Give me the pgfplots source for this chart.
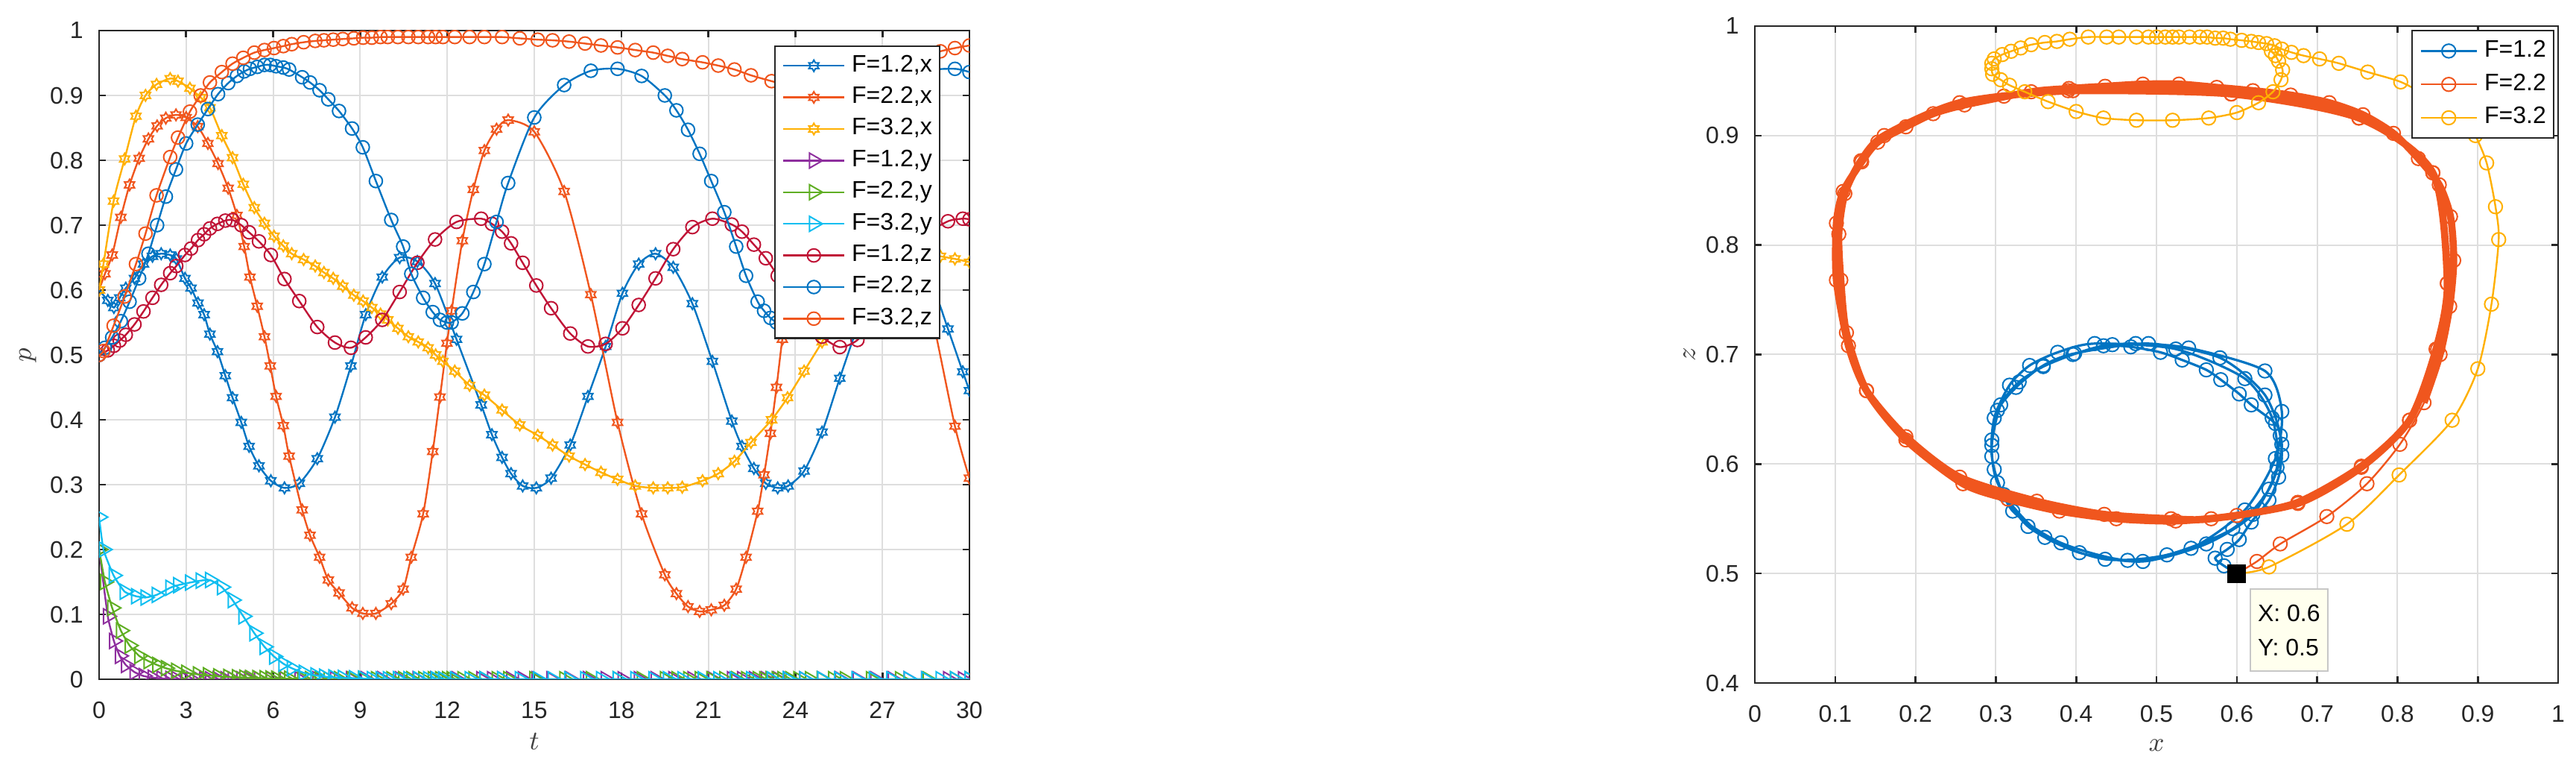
\documentclass[border=0pt]{standalone}
\usepackage{fontspec}
\setmainfont{Liberation Sans}
\usepackage{pgfplots}
\usepackage{pgfplotstable}
\pgfplotsset{compat=1.18}

\definecolor{cA}{HTML}{0074C2}
\definecolor{cB}{HTML}{F0561E}
\definecolor{cC}{HTML}{FFB000}
\definecolor{cD}{HTML}{8E2F9E}
\definecolor{cE}{HTML}{5FAE23}
\definecolor{cF}{HTML}{10BEF0}
\definecolor{cG}{HTML}{C01437}
\definecolor{tipbg}{HTML}{FFFFEE}

\pgfdeclareplotmark{hexagram}{%
  \pgfpathmoveto{\pgfpointpolar{90}{\pgfplotmarksize}}%
  \pgfpathlineto{\pgfpointpolar{120}{0.5774\pgfplotmarksize}}%
  \pgfpathlineto{\pgfpointpolar{150}{\pgfplotmarksize}}%
  \pgfpathlineto{\pgfpointpolar{180}{0.5774\pgfplotmarksize}}%
  \pgfpathlineto{\pgfpointpolar{210}{\pgfplotmarksize}}%
  \pgfpathlineto{\pgfpointpolar{240}{0.5774\pgfplotmarksize}}%
  \pgfpathlineto{\pgfpointpolar{270}{\pgfplotmarksize}}%
  \pgfpathlineto{\pgfpointpolar{300}{0.5774\pgfplotmarksize}}%
  \pgfpathlineto{\pgfpointpolar{330}{\pgfplotmarksize}}%
  \pgfpathlineto{\pgfpointpolar{0}{0.5774\pgfplotmarksize}}%
  \pgfpathlineto{\pgfpointpolar{30}{\pgfplotmarksize}}%
  \pgfpathlineto{\pgfpointpolar{60}{0.5774\pgfplotmarksize}}%
  \pgfpathclose
  \pgfusepathqstroke
}

% F = 1.2
\pgfplotstableread{
t x y z
0 0.600 0.200 0.500
0.30 0.584 0.097 0.507
0.51 0.573 0.059 0.514
0.71 0.588 0.036 0.522
0.92 0.603 0.022 0.531
1.22 0.618 0.011 0.547
1.53 0.640 0.005 0.567
1.84 0.652 0.0025 0.588
2.14 0.656 0.0012 0.608
2.45 0.654 0.0006 0.626
2.66 0.648 0.0003 0.637
2.96 0.618 0 0.654
3.17 0.603 0 0.664
3.41 0.580 0 0.677
3.62 0.562 0 0.686
3.82 0.532 0 0.695
4.08 0.505 0 0.702
4.35 0.468 0 0.707
4.60 0.434 0 0.708
4.90 0.396 0 0.700
5.17 0.359 0 0.689
5.51 0.329 0 0.675
5.92 0.306 0 0.654
6.39 0.295 0 0.617
6.90 0.302 0 0.583
7.52 0.340 0 0.543
8.13 0.404 0 0.519
8.68 0.483 0 0.511
9.19 0.562 0 0.527
9.76 0.620 0 0.554
10.36 0.650 0 0.597
10.97 0.644 0 0.642
11.58 0.610 0 0.678
12.32 0.524 0 0.705
13.17 0.423 0 0.710
13.54 0.377 0 0.702
13.89 0.342 0 0.690
14.20 0.317 0 0.672
14.60 0.298 0 0.642
15.07 0.295 0 0.607
15.58 0.310 0 0.572
16.24 0.361 0 0.533
16.85 0.436 0 0.513
17.46 0.513 0 0.517
18.04 0.595 0 0.541
18.60 0.640 0 0.577
19.18 0.656 0 0.618
19.79 0.635 0 0.663
20.45 0.579 0 0.697
21.14 0.490 0 0.710
21.81 0.398 0 0.701
22.16 0.359 0 0.690
22.57 0.325 0 0.670
22.98 0.302 0 0.649
23.39 0.295 0 0.622
23.75 0.298 0 0.595
24.30 0.321 0 0.557
24.92 0.381 0 0.528
25.53 0.464 0 0.512
26.14 0.543 0 0.523
26.75 0.610 0 0.558
27.35 0.648 0 0.605
27.90 0.656 0 0.648
28.50 0.635 0 0.685
29.26 0.540 0 0.706
29.77 0.474 0 0.710
30.00 0.445 0 0.709
}\dataA

% F = 2.2
\pgfplotstableread{
t x y z
0 0.600 0.200 0.500
0.20 0.625 0.150 0.511
0.45 0.654 0.110 0.527
0.75 0.712 0.075 0.552
1.05 0.762 0.052 0.582
1.38 0.803 0.036 0.618
1.70 0.833 0.028 0.656
2.00 0.853 0.022 0.700
2.30 0.865 0.017 0.744
2.65 0.870 0.013 0.786
3.00 0.866 0.010 0.826
3.40 0.852 0.0075 0.855
3.75 0.826 0.006 0.879
4.10 0.795 0.0045 0.902
4.45 0.757 0.0035 0.919
4.75 0.715 0.003 0.930
5.00 0.667 0.0025 0.937
5.20 0.620 0.002 0.941
5.45 0.575 0.0018 0.944
5.70 0.528 0.0015 0.947
5.90 0.483 0.0012 0.947
6.10 0.436 0.001 0.945
6.35 0.391 0.001 0.943
6.55 0.344 0.0008 0.940
7.00 0.261 0.0005 0.928
7.27 0.222 0 0.920
7.60 0.188 0 0.908
7.90 0.153 0 0.894
8.27 0.133 0 0.876
8.72 0.110 0 0.849
9.09 0.1015 0 0.820
9.54 0.1015 0 0.768
10.07 0.1165 0 0.708
10.48 0.139 0 0.667
10.76 0.188 0 0.625
11.17 0.255 0 0.588
11.50 0.351 0 0.566
11.75 0.435 0 0.554
11.99 0.518 0 0.550
12.15 0.568 0 0.550
12.52 0.676 0 0.564
12.90 0.755 0 0.597
13.28 0.815 0 0.640
13.70 0.848 0 0.705
14.10 0.862 0 0.765
15.00 0.844 0 0.866
16.03 0.752 0 0.916
16.95 0.593 0 0.938
17.87 0.396 0 0.941
18.70 0.255 0 0.930
19.50 0.161 0 0.900
19.90 0.132 0 0.877
20.30 0.112 0 0.847
20.70 0.1045 0 0.810
21.10 0.107 0 0.768
21.55 0.114 0 0.720
21.96 0.139 0 0.667
22.30 0.188 0 0.622
22.70 0.259 0 0.582
22.92 0.315 0 0.568
23.14 0.379 0 0.557
23.35 0.450 0 0.550
23.55 0.524 0 0.548
23.82 0.600 0 0.553
24.10 0.676 0 0.565
24.50 0.755 0 0.598
24.90 0.815 0 0.640
25.30 0.850 0 0.705
25.70 0.862 0 0.765
26.60 0.844 0 0.866
27.60 0.752 0 0.916
28.55 0.593 0 0.938
29.50 0.390 0 0.941
30.00 0.310 0 0.936
}\dataB

% F = 3.2
\pgfplotstableread{
t x y z
0 0.600 0.250 0.500
0.15 0.640 0.200 0.506
0.50 0.737 0.160 0.545
0.88 0.802 0.135 0.590
1.27 0.868 0.128 0.640
1.60 0.900 0.126 0.687
1.98 0.917 0.130 0.746
2.45 0.926 0.141 0.805
2.72 0.922 0.145 0.835
3.13 0.911 0.149 0.875
3.50 0.897 0.152 0.900
3.82 0.881 0.153 0.920
4.23 0.838 0.142 0.936
4.60 0.804 0.122 0.949
4.97 0.763 0.097 0.958
5.35 0.727 0.071 0.966
5.70 0.703 0.050 0.970
6.03 0.683 0.035 0.973
6.35 0.668 0.024 0.976
6.64 0.656 0.017 0.979
7.05 0.647 0.010 0.982
7.45 0.637 0.006 0.984
7.75 0.627 0.004 0.985
8.07 0.618 0.003 0.986
8.40 0.606 0.002 0.987
8.78 0.592 0.0015 0.988
9.10 0.583 0.001 0.989
9.40 0.573 0 0.989
9.70 0.563 0 0.990
9.95 0.554 0 0.990
10.30 0.541 0 0.990
10.66 0.528 0 0.990
11.00 0.520 0 0.990
11.34 0.511 0 0.990
11.60 0.500 0 0.990
11.85 0.490 0 0.990
12.26 0.475 0 0.990
12.77 0.453 0 0.990
13.28 0.438 0 0.990
13.89 0.415 0 0.990
14.50 0.392 0 0.988
15.12 0.376 0 0.986
15.63 0.361 0 0.985
16.20 0.344 0 0.983
16.75 0.331 0 0.980
17.30 0.319 0 0.977
17.87 0.308 0 0.974
18.48 0.298 0 0.970
19.10 0.295 0 0.966
19.60 0.295 0 0.961
20.10 0.296 0 0.956
20.80 0.306 0 0.951
21.34 0.317 0 0.946
21.90 0.336 0 0.940
22.47 0.365 0 0.931
23.18 0.400 0 0.922
23.73 0.434 0 0.916
24.30 0.475 0 0.914
24.92 0.520 0 0.914
25.50 0.565 0 0.916
26.10 0.600 0 0.921
26.70 0.627 0 0.930
27.30 0.645 0 0.940
27.90 0.655 0 0.951
28.50 0.657 0 0.960
29.00 0.652 0 0.968
29.50 0.648 0 0.973
30.00 0.643 0 0.977
}\dataC

\pgfplotsset{
  mlab/.style={
    scale only axis,
    anchor=south west,
    axis line style={color=black!85, line width=0.65pt},
    tick style={color=black!85, line width=0.65pt},
    major tick length=2.3pt,
    tick pos=both,
    tick align=inside,
    grid=major,
    major grid style={color=black!13, line width=0.5pt},
    tick label style={font=\fontsize{8}{9}\selectfont, color=black!85},
    /pgf/number format/assume math mode=true,
    xticklabel style={yshift=-4.1pt},
    yticklabel style={xshift=-1.8pt},
    label style={font=\fontsize{9.5}{11}\selectfont, color=black!75},
    clip marker paths=true,
    legend cell align=left,
  },
  hx/.style={line width=0.6pt, smooth, tension=0.45, mark=hexagram, mark size=1.9pt, mark options={solid, line width=0.5pt}},
  tr/.style={line width=0.6pt, smooth, tension=0.3, mark=triangle, mark size=2.9pt, mark options={solid, line width=0.5pt, rotate=-90}},
  ci/.style={line width=0.6pt, smooth, tension=0.45, mark=o, mark size=2.2pt, mark options={solid, line width=0.5pt}},
}

\begin{document}
\begin{tikzpicture}
\path[use as bounding box] (0pt,0pt) rectangle (864.25pt,256.5pt);

\begin{axis}[mlab,
  at={(33.25pt,28.75pt)},
  width=292pt, height=217.5pt,
  xmin=0, xmax=30, ymin=0, ymax=1,
  xtick={0,3,6,9,12,15,18,21,24,27,30},
  ytick={0,0.1,0.2,0.3,0.4,0.5,0.6,0.7,0.8,0.9,1},
  xlabel={$t$}, ylabel={$p$},
  xlabel style={at={(axis description cs:0.5,-0.0957)}, anchor=center},
  ylabel style={at={(axis description cs:-0.0818,0.5)}, anchor=center},
  legend style={at={(1,1)}, anchor=north east, xshift=-9.75pt, yshift=-5pt,
    draw=black!85, line width=0.6pt, fill=white,
    font=\fontsize{8}{9}\selectfont,
    inner xsep=2.5pt, inner ysep=1.2pt, row sep=0pt, column sep=2.2pt,
    nodes={inner xsep=0pt, inner ysep=1.3pt, text height=6pt, text depth=2pt, anchor=west}},
  legend image code/.code={\draw[mark repeat=2,mark phase=2] plot coordinates {(0pt,0pt) (10.25pt,0pt) (20.5pt,0pt)};},
]
\addplot[hx, color=cA] table[x=t,y=x]{\dataA};
\addlegendentry{F=1.2,x}
\addplot[hx, color=cB] table[x=t,y=x]{\dataB};
\addlegendentry{F=2.2,x}
\addplot[hx, color=cC] table[x=t,y=x]{\dataC};
\addlegendentry{F=3.2,x}
\addplot[tr, color=cD] table[x=t,y=y]{\dataA};
\addlegendentry{F=1.2,y}
\addplot[tr, color=cE] table[x=t,y=y]{\dataB};
\addlegendentry{F=2.2,y}
\addplot[tr, color=cF] table[x=t,y=y]{\dataC};
\addlegendentry{F=3.2,y}
\addplot[ci, color=cG] table[x=t,y=z]{\dataA};
\addlegendentry{F=1.2,z}
\addplot[ci, color=cA] table[x=t,y=z]{\dataB};
\addlegendentry{F=2.2,z}
\addplot[ci, color=cB] table[x=t,y=z]{\dataC};
\addlegendentry{F=3.2,z}
\end{axis}

\begin{axis}[mlab,
  at={(588.75pt,27.5pt)},
  width=269.5pt, height=220.25pt,
  xmin=0, xmax=1, ymin=0.4, ymax=1,
  xtick={0,0.1,0.2,0.3,0.4,0.5,0.6,0.7,0.8,0.9,1},
  ytick={0.4,0.5,0.6,0.7,0.8,0.9,1},
  xlabel={$x$}, ylabel={$z$},
  xlabel style={at={(axis description cs:0.5,-0.0953)}, anchor=center},
  ylabel style={at={(axis description cs:-0.0816,0.5)}, anchor=center},
  legend style={at={(1,1)}, anchor=north east, xshift=-1.25pt, yshift=-1.25pt,
    draw=black!85, line width=0.6pt, fill=white,
    font=\fontsize{8}{9}\selectfont,
    inner xsep=2.5pt, inner ysep=1.2pt, row sep=0pt, column sep=2.2pt,
    nodes={inner xsep=0pt, inner ysep=1.6pt, text height=6pt, text depth=2pt, anchor=west}},
  legend image code/.code={\draw[mark repeat=2,mark phase=2] plot coordinates {(0pt,0pt) (9.375pt,0pt) (18.75pt,0pt)};},
]
\addplot[ci, color=cA, line width=0.8pt, mark size=2.3pt] table[x=x,y=z]{\dataA};
\addlegendentry{F=1.2}
\addplot[color=cB, line width=2.4pt, smooth, tension=0.45, forget plot] table[x=x,y=z, skip coords between index={0}{6}]{\dataB};
\addplot[ci, color=cB, mark size=2.3pt] table[x=x,y=z]{\dataB};
\addlegendentry{F=2.2}
\addplot[ci, color=cC, mark size=2.3pt] table[x=x,y=z]{\dataC};
\addlegendentry{F=3.2}
\addplot[only marks, mark=square*, mark size=2.9pt, black, forget plot] coordinates {(0.6,0.5)};
\node[anchor=north west, xshift=4.25pt, yshift=-5pt, fill=tipbg, draw=black!22, line width=0.5pt,
  inner xsep=2.2pt, align=left, font=\fontsize{8}{11.5}\selectfont,
  minimum width=26pt, minimum height=27.5pt] at (axis cs:0.6,0.5) {X: 0.6\\Y: 0.5};
\end{axis}
\end{tikzpicture}
\end{document}
